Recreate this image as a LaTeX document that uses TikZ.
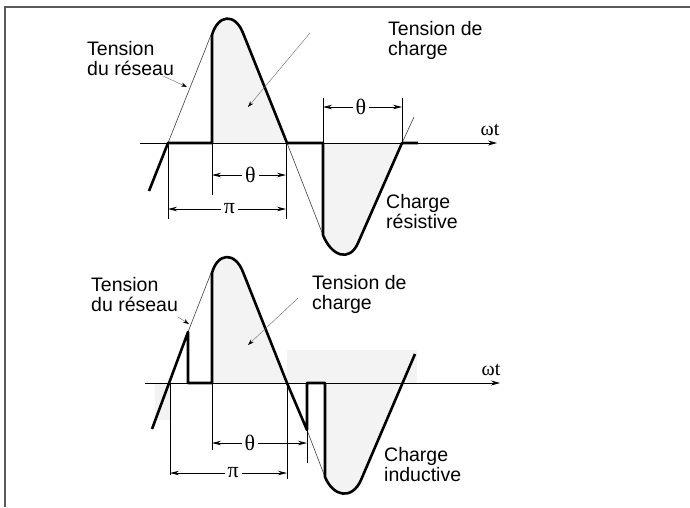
\documentclass[tikz,border=0pt]{standalone}
\usepackage{fontspec}
\setmainfont{Liberation Sans}
\newfontfamily\symfont{Liberation Serif}
\usetikzlibrary{arrows.meta}
\definecolor{lobe}{HTML}{F3F3F3}
\definecolor{framec}{HTML}{5A5A5A}
\begin{document}
\begin{tikzpicture}[x=1pt,y=-1pt,
  wave/.style={line width=2.6pt, line join=round, line cap=butt},
  supply/.style={line width=0.6pt, draw=black!75},
  axisl/.style={line width=0.8pt, -{Stealth[length=9pt,width=5pt]}},
  dimref/.style={line width=0.8pt},
  dimarrow/.style={line width=0.8pt, {Stealth[length=9pt,width=4.5pt]}-{Stealth[length=9pt,width=4.5pt]}},
  leader/.style={line width=0.4pt, draw=black!60, -{Stealth[length=6pt,width=4pt,black]}},
  lbl/.style={inner sep=0pt, anchor=north west, align=left, font=\fontsize{19.5}{20}\selectfont},
  sym/.style={inner sep=3pt, fill=white, font=\symfont\fontsize{22}{22}\selectfont},
  wt/.style={inner sep=0pt, font=\symfont\fontsize{20}{20}\selectfont},
  lobefill/.style={fill=lobe, draw=none}]
\useasboundingbox (0,0) rectangle (690,507);
\fill[white] (0,0) rectangle (690,507);
% frame
\draw[framec, line width=2pt] (5,507) -- (5,7) -- (690,7);

% ================= TOP DIAGRAM =================
\fill[lobefill] (212,143) -- (212,35) .. controls (217.9,14.5) and (234.9,12.5) .. (243,33) -- (287,143) -- cycle;
\fill[lobefill] (323,143) -- (323,235) .. controls (331,255.5) and (349.2,263.1) .. (358,243) -- (402,143) -- cycle;

\coordinate (A1s) at (140,143); \coordinate (A1e) at (497,143);
\draw[axisl] (A1s) -- (A1e);
\node[wt] (wt1) at (490,130) {ωt};

% supply voltage (thin)
\draw[supply] (168,143) -- (211,35);
\draw[supply] (287,143) -- (323,235);
\draw[supply] (402,143) -- (414,117);

% load voltage (thick)
\draw[wave] (149,191) -- (168,143) -- (212,143) -- (212,35)
  .. controls (217.9,14.5) and (234.9,12.5) .. (243,33) -- (287,143) -- (323,143) -- (323,235)
  .. controls (331,255.5) and (349.2,263.1) .. (358,243) -- (402,143) -- (418,143);

% dimension reference lines
\draw[dimref] (168,143) -- (168,219);
\draw[dimref] (212,143) -- (212,195);
\draw[dimref] (286,143) -- (286,219);
\draw[dimref] (323,143) -- (323,98);
\draw[dimref] (402,143) -- (402,98);

% dimensions
\coordinate (t1a) at (212,175); \coordinate (t1b) at (286,175);
\draw[dimarrow] (t1a) -- node[sym, pos=0.52] (th1) {θ} (t1b);
\coordinate (p1a) at (168,209); \coordinate (p1b) at (286,209);
\draw[dimarrow] (p1a) -- node[sym, pos=0.52] (pi1) {π} (p1b);
\coordinate (t2a) at (323,107); \coordinate (t2b) at (402,107);
\draw[dimarrow] (t2a) -- node[sym, pos=0.48] (th2) {θ} (t2b);

% labels
\node[lbl] (res1) at (87,41) {Tension\\du réseau};
\node[lbl] (ch1) at (388,21) {Tension de\\charge};
\node[lbl] (rs1) at (386,194) {Charge\\résistive};
\coordinate (l1a) at (163,76); \coordinate (l1b) at (187,87);
\draw[leader] (l1a) -- (l1b);
\coordinate (l2a) at (310,33); \coordinate (l2b) at (248,107);
\draw[leader] (l2a) -- (l2b);

% ================= BOTTOM DIAGRAM =================
\fill[lobefill] (287,350) rectangle (417,383);
\fill[lobefill] (155,383) rectangle (170,420);
\fill[lobefill] (212,383) -- (212,273) .. controls (217.7,252.3) and (234.9,251.5) .. (243,272) -- (287,383) -- cycle;
\fill[lobefill] (325,383) -- (325,477) .. controls (333.6,497.2) and (352,500) .. (361,480) -- (402.6,383) -- cycle;

\coordinate (A2s) at (145,383); \coordinate (A2e) at (500,383);
\draw[axisl] (A2s) -- (A2e);
\node[wt] (wt2) at (491,370) {ωt};

\draw[supply] (188,332) -- (211,273);
\draw[supply] (307,430) -- (325,477);

\draw[wave] (152,429) -- (188,332) -- (188,383) -- (212,383) -- (212,273)
  .. controls (217.7,252.3) and (234.9,251.5) .. (243,272) -- (287,383) -- (307,430)
  -- (307,383) -- (325,383) -- (325,477)
  .. controls (333.6,497.2) and (352,500) .. (361,480) -- (415,354);

\draw[dimref] (170,383) -- (170,475);
\draw[dimref] (212,383) -- (212,450);
\draw[dimref] (287,383) -- (287,479);
\draw[dimref] (307,430) -- (307,463);

\coordinate (t3a) at (212,443); \coordinate (t3b) at (307,443);
\draw[dimarrow] (t3a) -- node[sym, pos=0.4] (th3) {θ} (t3b);
\coordinate (p2a) at (170,473); \coordinate (p2b) at (287,473);
\draw[dimarrow] (p2a) -- node[sym, pos=0.54] (pi2) {π} (p2b);

\node[lbl] (res2) at (91,277) {Tension\\du réseau};
\node[lbl] (ch2) at (312,275) {Tension de\\charge};
\node[lbl] (in2) at (384,447) {Charge\\inductive};
\coordinate (l3a) at (178,317); \coordinate (l3b) at (189,324);
\draw[leader] (l3a) -- (l3b);
\coordinate (l4a) at (298,298); \coordinate (l4b) at (248,345);
\draw[leader] (l4a) -- (l4b);
\end{tikzpicture}
\end{document}
